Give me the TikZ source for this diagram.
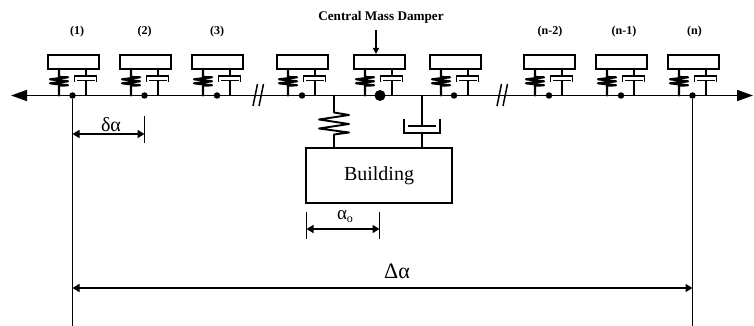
\documentclass[tikz,border=0pt]{standalone}
\usepackage{fontspec}
\setmainfont{Liberation Serif}
\usetikzlibrary{arrows.meta}
\tikzset{
  x=1pt,y=-1pt,
  line/.style={line width=1.5pt,black},
  thin line/.style={line width=1.1pt,black},
  coil/.style={line join=round,line cap=round},
  massbox/.style={draw,line width=1.6pt,minimum width=51pt,minimum height=14.5pt,inner sep=0pt,anchor=north west},
  joint/.style={circle,fill=black,inner sep=0pt,minimum size=6.5pt},
  bigjoint/.style={circle,fill=black,inner sep=0pt,minimum size=11pt},
  tag/.style={font=\bfseries\fontsize{12}{14}\selectfont,inner sep=0pt},
  dimen/.style={line width=1.5pt,{Triangle[length=7pt,width=8pt]}-{Triangle[length=7pt,width=8pt]}},
  axisline/.style={line width=1.7pt,{Triangle[length=16pt,width=11pt]}-{Triangle[length=16pt,width=11pt]}},
}
\begin{document}
\begin{tikzpicture}
\useasboundingbox (0,0) rectangle (754,326);
\coordinate (axL) at (11,95.5);
\coordinate (axR) at (753,95.5);
\draw[axisline] (axL) -- (axR);
% absorbers: index / box left edge / joint x
\foreach \i/\xl/\xj in {1/47/72.5,2/119/144.5,3/191/217,4/276/302,5/353/380,6/429/454,7/523/549,8/595/621,9/667/692.5}{
  \node[massbox] (m\i) at (\xl,54) {};
  \coordinate (st\i) at (\xl+12,69);
  \coordinate (sb\i) at (\xl+12,95.5);
  \coordinate (dt\i) at (\xl+39,69);
  \coordinate (db\i) at (\xl+39,95.5);
  \draw[coil,line width=2.2pt] (st\i) -- ++(0,8) -- ++(9,0.3) -- ++(-18,2) -- ++(18,2) -- ++(-18,2) -- ++(18,2) -- ++(-9,0.3) -- (sb\i);
  \draw[line] (dt\i) -- ++(0,7);
  \draw[line] (db\i) -- ++(0,-15.5);
  \draw[line] ([xshift=-11.5pt,yshift=-13pt]dt\i) -- ++(0,-6) -- ++(22,0) -- ++(0,6);
  \draw[line width=1.8pt] ([xshift=-9pt,yshift=-11.5pt]dt\i) -- ++(18,0);
  \coordinate (j\i) at (\xj,95.5);
}
\foreach \i in {1,2,3,4,6,7,8,9}{ \node[joint] (jn\i) at (j\i) {}; }
\node[bigjoint] (jn5) at (j5) {};
% labels
\node[tag] (l1) at (77,32) {(1)};
\node[tag] (l2) at (144.5,32) {(2)};
\node[tag] (l3) at (217,32) {(3)};
\node[tag] (l7) at (550,32) {(n-2)};
\node[tag] (l8) at (624,32) {(n-1)};
\node[tag] (l9) at (694.5,32) {(n)};
\node[font=\bfseries\fontsize{13.2}{15}\selectfont,inner sep=0pt] (cmd) at (381,17) {Central Mass Damper};
\coordinate (cmdt) at (376,30);
\draw[line width=1.4pt,-{Triangle[length=6pt,width=6pt]}] (cmdt) -- (m5.north -| cmdt);
% breaks
\foreach \a in {253,259,497,503}{
  \draw[line] (\a+4.5,84) -- (\a,106);
}
% building
\node[draw,line width=1.5pt,minimum width=146pt,minimum height=55pt,inner sep=0pt,font=\fontsize{20}{24}\selectfont] (bld) at (379,175.5) {Building};
\coordinate (sp) at (334,95.5);
\coordinate (da) at (422,95.5);
\draw[coil,line width=1.9pt] (sp) -- ++(0,17) -- ++(15,2.5) -- ++(-30,4.5) -- ++(30,4.5) -- ++(-30,4.5) -- ++(30,4) -- ++(-15,2) -- (sp |- bld.north);
\draw[line] (da) -- ++(0,30.5);
\draw[line width=2pt] (408,126) -- (436,126);
\draw[line width=1.7pt] (404,119) -- (404,133) -- (440,133) -- (440,119);
\draw[line] (422,133) -- (da |- bld.north);
% verticals and dimensions
\coordinate (v1b) at (j1 |- 0,326);
\coordinate (v9b) at (j9 |- 0,326);
\draw[thin line] (jn1) -- (v1b);
\draw[thin line] (jn9) -- (v9b);
\coordinate (t2a) at (144.5,116);
\coordinate (t2b) at (144.5,143);
\draw[thin line] (t2a) -- (t2b);
\draw[dimen] (j1 |- 0,134) -- (t2a |- 0,134);
\node[inner sep=0pt,font=\fontsize{20}{22}\selectfont] (da1) at (111,124.5) {δα};
\coordinate (o1) at (306.5,212);
\coordinate (o2) at (306.5,239);
\coordinate (o3) at (379.5,212);
\coordinate (o4) at (379.5,239);
\draw[thin line] (o1) -- (o2);
\draw[line] (o3) -- (o4);
\draw[dimen] (o1 |- 0,229) -- (o3 |- 0,229);
\node[inner sep=0pt,font=\fontsize{19}{20}\selectfont] (da2) at (345,217) {α\raisebox{-3pt}{\fontsize{12}{12}\selectfont o}};
\draw[dimen] (j1 |- 0,288) -- (j9 |- 0,288);
\node[inner sep=0pt,font=\fontsize{22}{24}\selectfont] (da3) at (397,271) {Δα};
\end{tikzpicture}
\end{document}
